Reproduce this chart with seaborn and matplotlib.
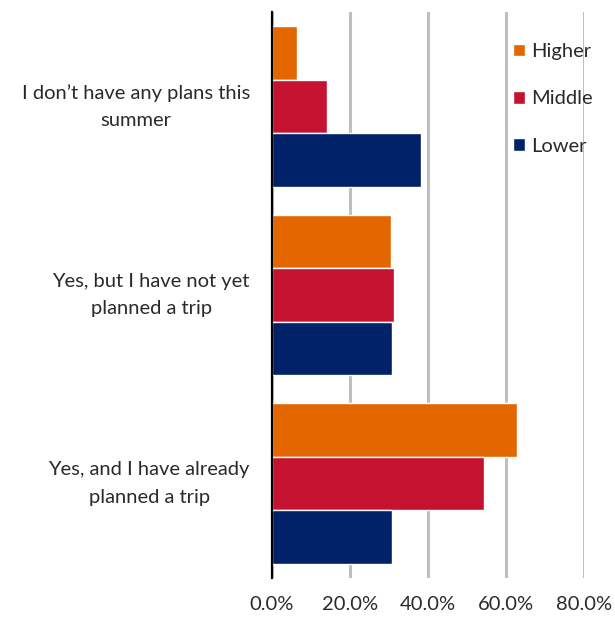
import matplotlib
matplotlib.use("Agg")
import matplotlib.pyplot as plt
import seaborn as sns
import pandas as pd
from matplotlib.ticker import FuncFormatter

categories = [
    "I don\u2019t have any plans this\nsummer",
    "Yes, but I have not yet\nplanned a trip",
    "Yes, and I have already\nplanned a trip",
]
series = ["Higher", "Middle", "Lower"]
higher = [6.5, 30.5, 62.7]
middle = [14.0, 31.4, 54.4]
lower = [38.2, 30.8, 30.8]
colors = ["#E36600", "#C41230", "#012169"]
xticks = [0, 20, 40, 60, 80]

rows = []
for name, vals in zip(series, [higher, middle, lower]):
    for c, v in zip(categories, vals):
        rows.append({"category": c, "group": name, "value": v})
df = pd.DataFrame(rows)

sns.set_theme(style="white")
plt.rcParams["font.family"] = ["Lato", "DejaVu Sans"]

fig = plt.figure(figsize=(6.15, 6.17), dpi=100)
ax = fig.add_axes([272/615, 1-578/617, (584-272)/615, (578-12)/617])

sns.barplot(data=df, y="category", x="value", hue="group", order=categories,
            hue_order=series, palette=colors, saturation=1, orient="h", width=0.85,
            edgecolor="white", linewidth=1.0, ax=ax, zorder=3)

ax.set_xlim(0, 80)
ax.set_xticks(xticks)
ax.xaxis.set_major_formatter(FuncFormatter(lambda v, p: f"{v:.1f}%"))
ax.grid(axis="x", color="#BFBFBF", linewidth=2.2, zorder=0)
ax.grid(axis="y", visible=False)
ax.set_axisbelow(True)
for s in ["top", "right", "bottom"]:
    ax.spines[s].set_visible(False)
ax.spines["left"].set_color("black")
ax.spines["left"].set_linewidth(1.6)
ax.spines["left"].set_zorder(5)
ax.tick_params(axis="both", length=0, labelsize=14.5, colors="#2a2a2a")
ax.tick_params(axis="x", pad=13)
ax.tick_params(axis="y", pad=16)
for t in ax.get_yticklabels():
    t.set_multialignment("center")
    t.set_linespacing(1.75)
    t.set_verticalalignment("center")
ax.set_xlabel("")
ax.set_ylabel("")

leg = ax.legend(loc="upper right", bbox_to_anchor=(1.085, 0.977), frameon=False,
                fontsize=14.5, labelspacing=1.5, handlelength=0.6,
                handleheight=0.6, handletextpad=0.3, labelcolor="#2a2a2a")

fig.savefig("out.png", dpi=100)
